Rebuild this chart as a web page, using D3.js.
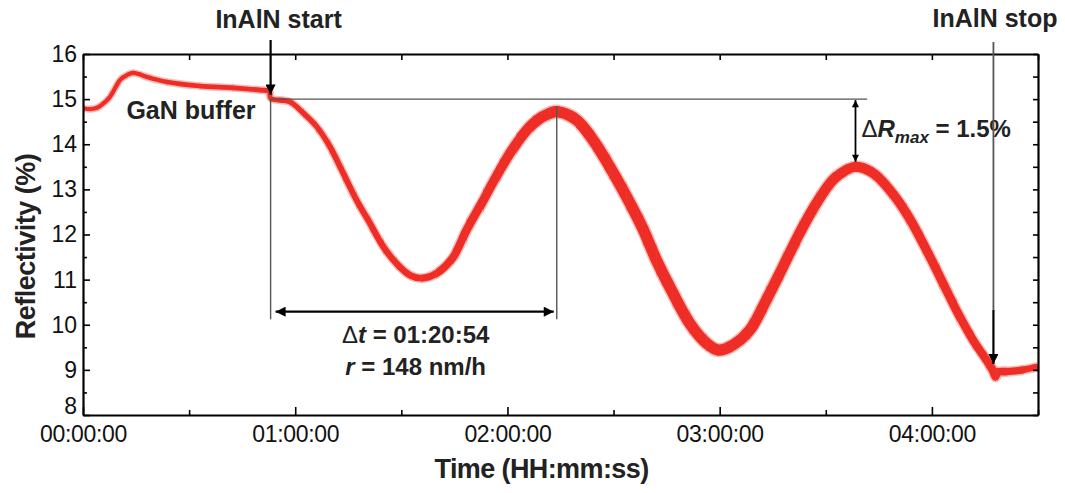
<!DOCTYPE html>
<html>
<head>
<meta charset="utf-8">
<script src="https://cdn.jsdelivr.net/npm/d3@7"></script>
<style>
  body { margin: 0; background: #fff; }
  svg { font-family: "Liberation Sans", Arial, Helvetica, sans-serif; }
  .axis path, .axis line { stroke: #000; }
  .axis text { font-size: 23px; fill: #111; }
  .ann { font-weight: bold; font-size: 25px; fill: #222; }
</style>
</head>
<body>
<svg id="chart" width="1065" height="493"></svg>
<script>
// time in hours, reflectivity in %
const timeH = [0.000, 0.040, 0.071, 0.085, 0.127, 0.174, 0.207, 0.236, 0.316, 0.396,
  0.551, 0.707, 0.834, 0.878, 0.884, 0.975, 1.038, 1.101, 1.163, 1.226,
  1.289, 1.352, 1.415, 1.477, 1.540, 1.595, 1.666, 1.744, 1.807, 1.886,
  1.964, 2.043, 2.121, 2.200, 2.240, 2.325, 2.404, 2.482, 2.561, 2.639,
  2.702, 2.780, 2.859, 2.938, 2.993, 3.063, 3.142, 3.220, 3.299, 3.377,
  3.456, 3.534, 3.597, 3.644, 3.723, 3.801, 3.880, 3.958, 4.037, 4.115,
  4.194, 4.257, 4.288, 4.300, 4.310, 4.351, 4.430, 4.500];
const reflectivity = [14.80, 14.78, 14.82, 14.86, 15.05, 15.42, 15.53, 15.58, 15.47, 15.38,
  15.29, 15.25, 15.20, 15.17, 15.02, 14.94, 14.69, 14.39, 13.95, 13.36,
  12.76, 12.25, 11.73, 11.36, 11.10, 11.03, 11.14, 11.50, 12.10, 12.76,
  13.43, 14.02, 14.46, 14.69, 14.72, 14.54, 14.09, 13.50, 12.84, 12.12,
  11.43, 10.70, 10.03, 9.59, 9.44, 9.55, 9.88, 10.55, 11.29, 12.03,
  12.69, 13.21, 13.43, 13.50, 13.36, 12.99, 12.47, 11.81, 11.07, 10.33,
  9.66, 9.22, 8.98, 8.85, 8.95, 8.96, 9.00, 9.07];
// signal noise spread (%), read at a few times
const noiseTime = [0, 0.88, 1.6, 2.2, 3.0, 3.7, 4.29, 4.5];
const noiseSpread = [0.09, 0.11, 0.15, 0.25, 0.25, 0.22, 0.18, 0.14];

const xTicks = [0, 1, 2, 3, 4];
const xMinor = [0.5, 1.5, 2.5, 3.5, 4.5];
const yTicks = [8, 9, 10, 11, 12, 13, 14, 15, 16];
const yMinor = [8.5, 9.5, 10.5, 11.5, 12.5, 13.5, 14.5, 15.5];

const startT = 0.884, startR = 15.0, deltaT = 1 + 20 / 60 + 54 / 3600;
const dRmax = 1.5, dRtime = 3.64, stopT = 4.29;

const svg = d3.select("#chart");
const mLeft = 83, mRight = 1038, mTop = 54, mBottom = 415;
const x = d3.scaleLinear().domain([0, 4.5]).range([mLeft, mRight]);
const y = d3.scaleLinear().domain([8, 16]).range([mBottom, mTop]);
const noise = d3.scaleLinear().domain(noiseTime).range(noiseSpread);

const fmt = h => {
  const s = Math.round(h * 3600);
  const p = v => String(v).padStart(2, "0");
  return p(Math.floor(s / 3600)) + ":" + p(Math.floor(s % 3600 / 60)) + ":" + p(s % 60);
};

const data = timeH.map((t, i) => ({t: t, r: reflectivity[i]}));
const line = d3.line().x(d => x(d.t)).y(d => y(d.r)).curve(d3.curveCatmullRom.alpha(0.5));

// curve drawn piece by piece so the noise band can widen with time
const defs = svg.append("defs");
const pieces = d3.pairs(data);
defs.selectAll("clipPath.seg")
  .data(pieces)
  .join("clipPath")
    .attr("class", "seg")
    .attr("id", (d, i) => "seg" + i)
  .append("rect")
    .attr("x", d => Math.max(mLeft, x(d[0].t) - 0.3))
    .attr("width", d => Math.min(mRight, x(d[1].t) + 0.3) - Math.max(mLeft, x(d[0].t) - 0.3))
    .attr("y", mTop - 20)
    .attr("height", mBottom - mTop + 40);

const gCurve = svg.append("g");
const pathD = line(data);
pieces.forEach((d, i) => {
  const w = (y(8) - y(8 + noise((d[0].t + d[1].t) / 2)));
  const g = gCurve.append("g").attr("clip-path", "url(#seg" + i + ")");
  g.append("path").attr("d", pathD).attr("fill", "none")
    .attr("stroke", "#f25a52").attr("stroke-opacity", 0.4).attr("stroke-width", w + 3);
  g.append("path").attr("d", pathD).attr("fill", "none")
    .attr("stroke", "#ee2e26").attr("stroke-width", w);
});

// axes, ticks inward
svg.append("g").attr("class", "axis").attr("transform", `translate(0,${mBottom})`)
  .call(d3.axisBottom(x).tickValues(xTicks).tickFormat(fmt).tickSizeInner(-8).tickSizeOuter(0).tickPadding(11))
  .call(g => g.select(".domain").attr("stroke-width", 2.2))
  .call(g => g.selectAll(".tick line").attr("stroke-width", 1.6))
  .call(g => g.selectAll(".tick text").style("letter-spacing", "-0.3px"));
svg.append("g").attr("class", "axis").attr("transform", `translate(0,${mBottom})`)
  .call(d3.axisBottom(x).tickValues(xMinor).tickFormat("").tickSizeInner(-5).tickSizeOuter(0))
  .call(g => g.selectAll(".tick line").attr("stroke-width", 1.6));
svg.append("g").attr("class", "axis").attr("transform", `translate(0,${mTop})`)
  .call(d3.axisTop(x).tickValues(xTicks.concat(xMinor)).tickFormat("").tickSizeInner(-6).tickSizeOuter(0))
  .call(g => g.select(".domain").attr("stroke-width", 2.2))
  .call(g => g.selectAll(".tick line").attr("stroke-width", 1.6));

svg.append("g").attr("class", "axis").attr("transform", `translate(${mLeft},0)`)
  .call(d3.axisLeft(y).tickValues(yTicks).tickSizeInner(-7).tickSizeOuter(0).tickPadding(6))
  .call(g => g.select(".domain").attr("stroke-width", 2.2))
  .call(g => g.selectAll(".tick line").attr("stroke-width", 1.6))
  .call(g => g.selectAll(".tick text").filter(d => d === 8).attr("dy", "-0.06em"));
svg.append("g").attr("class", "axis").attr("transform", `translate(${mLeft},0)`)
  .call(d3.axisLeft(y).tickValues(yMinor).tickFormat("").tickSizeInner(-4).tickSizeOuter(0))
  .call(g => g.selectAll(".tick line").attr("stroke-width", 1.6));
svg.append("g").attr("class", "axis").attr("transform", `translate(${mRight},0)`)
  .call(d3.axisRight(y).tickValues(yTicks.concat(yMinor)).tickFormat("").tickSizeInner(-5).tickSizeOuter(0))
  .call(g => g.select(".domain").attr("stroke-width", 2.2))
  .call(g => g.selectAll(".tick line").attr("stroke-width", 1.6));

// axis titles
svg.append("text").attr("class", "ann")
  .attr("transform", `translate(${x(2.25) - 19},478)`)
  .attr("text-anchor", "middle").style("font-size", "27px").style("letter-spacing", "-0.6px")
  .attr("fill", "#000").text("Time (HH:mm:ss)");
svg.append("text").attr("class", "ann")
  .attr("transform", `translate(35,${y(12) + 12}) rotate(-90)`)
  .attr("text-anchor", "middle").style("font-size", "27px").style("letter-spacing", "-0.5px")
  .attr("fill", "#000").text("Reflectivity (%)");

// arrow heads
defs.append("marker").attr("id", "head")
  .attr("viewBox", "0 0 10 10").attr("refX", 10).attr("refY", 5)
  .attr("markerUnits", "userSpaceOnUse").attr("markerWidth", 14).attr("markerHeight", 10)
  .attr("orient", "auto-start-reverse")
  .append("path").attr("d", "M0,0 L10,5 L0,10 z").attr("fill", "#000");
defs.append("marker").attr("id", "headS")
  .attr("viewBox", "0 0 10 10").attr("refX", 10).attr("refY", 5)
  .attr("markerUnits", "userSpaceOnUse").attr("markerWidth", 9).attr("markerHeight", 7)
  .attr("orient", "auto-start-reverse")
  .append("path").attr("d", "M0,0 L10,5 L0,10 z").attr("fill", "#000");

const ann = svg.append("g");
const guide = (x1, y1, x2, y2) => ann.append("line")
  .attr("x1", x1).attr("y1", y1).attr("x2", x2).attr("y2", y2)
  .attr("stroke", "#555").attr("stroke-width", 1.4);

// guide lines
guide(x(startT), y(startR), x(startT), y(10.12));
guide(x(startT + deltaT), y(14.85), x(startT + deltaT), y(10.12));
guide(x(startT), y(startR), x(3.695), y(startR));

// start arrow
ann.append("line").attr("x1", x(startT)).attr("y1", 40).attr("x2", x(startT)).attr("y2", y(15.1))
  .attr("stroke", "#000").attr("stroke-width", 2.2).attr("marker-end", "url(#head)");
ann.append("text").attr("class", "ann").attr("x", x(startT) + 8).attr("y", 28)
  .attr("text-anchor", "middle").text("InAlN start");

// Δt arrow
ann.append("line").attr("x1", x(startT) + 5).attr("y1", y(10.29))
  .attr("x2", x(startT + deltaT) - 3).attr("y2", y(10.29))
  .attr("stroke", "#000").attr("stroke-width", 2.2)
  .attr("marker-start", "url(#head)").attr("marker-end", "url(#head)");
const tx = x(startT + deltaT / 2) + 2;
const t1 = ann.append("text").attr("class", "ann").attr("x", tx).attr("y", 343)
  .attr("text-anchor", "middle").style("font-size", "24px");
t1.append("tspan").style("font-weight", "normal").text("\u0394");
t1.append("tspan").style("font-style", "italic").text("t");
t1.append("tspan").text(" = 01:20:54");
const t2 = ann.append("text").attr("class", "ann").attr("x", tx).attr("y", 375)
  .attr("text-anchor", "middle").style("font-size", "24px");
t2.append("tspan").style("font-style", "italic").text("r");
t2.append("tspan").text(" = 148 nm/h");

ann.append("text").attr("class", "ann").attr("x", 191).attr("y", 119)
  .attr("text-anchor", "middle").text("GaN buffer");

// ΔRmax arrow
ann.append("line").attr("x1", x(dRtime)).attr("y1", y(startR) + 1)
  .attr("x2", x(dRtime)).attr("y2", y(startR - dRmax) - 5)
  .attr("stroke", "#000").attr("stroke-width", 1.8)
  .attr("marker-start", "url(#headS)").attr("marker-end", "url(#headS)");
const t3 = ann.append("text").attr("class", "ann").attr("x", x(dRtime) + 6).attr("y", 137)
  .style("font-size", "24px");
t3.append("tspan").style("font-weight", "normal").text("\u0394");
t3.append("tspan").style("font-style", "italic").text("R");
t3.append("tspan").style("font-style", "italic").style("font-size", "17px").attr("dy", 6).text("max");
t3.append("tspan").attr("dy", -6).text(" = 1.5%");

// stop arrow
ann.append("line").attr("x1", x(stopT)).attr("y1", 42).attr("x2", x(stopT)).attr("y2", y(10.33))
  .attr("stroke", "#555").attr("stroke-width", 1.8);
ann.append("line").attr("x1", x(stopT)).attr("y1", y(10.33)).attr("x2", x(stopT)).attr("y2", y(9.13))
  .attr("stroke", "#000").attr("stroke-width", 2.2).attr("marker-end", "url(#head)");
ann.append("text").attr("class", "ann").attr("x", 995).attr("y", 27)
  .attr("text-anchor", "middle").text("InAlN stop");
</script>
</body>
</html>
